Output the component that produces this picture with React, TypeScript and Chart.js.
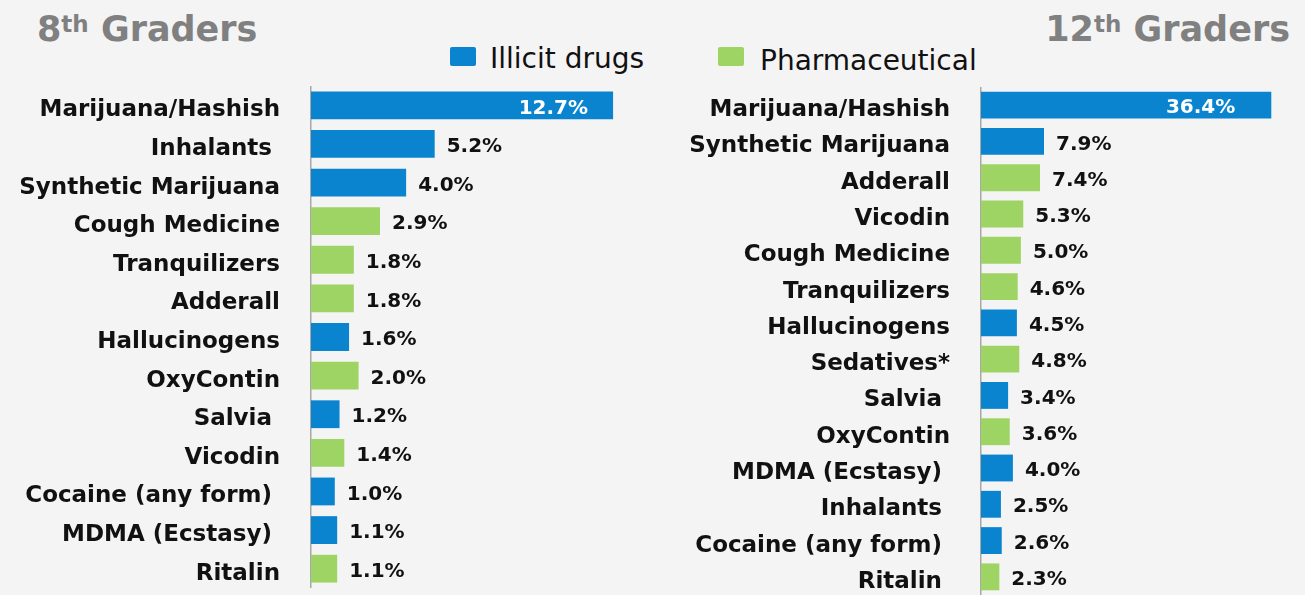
import React, { useEffect, useRef } from "react";
import { Chart, registerables } from "chart.js";

Chart.register(...registerables);

const SERIES_NAMES = ["Illicit drugs", "Pharmaceutical"];

const grade8Labels = [
  "Marijuana/Hashish",
  "Inhalants ",
  "Synthetic Marijuana",
  "Cough Medicine",
  "Tranquilizers",
  "Adderall",
  "Hallucinogens",
  "OxyContin",
  "Salvia ",
  "Vicodin",
  "Cocaine (any form) ",
  "MDMA (Ecstasy) ",
  "Ritalin",
];
const grade8Values = [12.7, 5.2, 4.0, 2.9, 1.8, 1.8, 1.6, 2.0, 1.2, 1.4, 1.0, 1.1, 1.1];
const grade8Types = ["I", "I", "I", "P", "P", "P", "I", "P", "I", "P", "I", "I", "P"];

const grade12Labels = [
  "Marijuana/Hashish",
  "Synthetic Marijuana",
  "Adderall",
  "Vicodin",
  "Cough Medicine",
  "Tranquilizers",
  "Hallucinogens",
  "Sedatives*",
  "Salvia ",
  "OxyContin",
  "MDMA (Ecstasy) ",
  "Inhalants ",
  "Cocaine (any form) ",
  "Ritalin ",
];
const grade12Values = [36.4, 7.9, 7.4, 5.3, 5.0, 4.6, 4.5, 4.8, 3.4, 3.6, 4.0, 2.5, 2.6, 2.3];
const grade12Types = ["I", "I", "P", "P", "P", "P", "I", "P", "I", "P", "I", "I", "I", "P"];

const BLUE = "#0a84cf";
const GREEN = "#9dd463";
const BG = "#f4f4f4";
const FONT = "'DejaVu Sans'";

const valueLabelPlugin = {
  id: "valueLabels",
  afterDatasetsDraw(chart: any, _args: any, opts: any) {
    const ctx = chart.ctx;
    let maxV = 0;
    chart.data.datasets.forEach((ds: any) =>
      ds.data.forEach((v: any) => {
        if (v != null && v > maxV) maxV = v;
      })
    );
    ctx.save();
    ctx.font = "bold 20px " + FONT;
    ctx.textBaseline = "middle";
    chart.data.datasets.forEach((ds: any, di: number) => {
      const meta = chart.getDatasetMeta(di);
      meta.data.forEach((el: any, i: number) => {
        const v = ds.data[i];
        if (v == null) return;
        const txt = v.toFixed(1) + "%";
        if (v === maxV) {
          ctx.fillStyle = "#ffffff";
          ctx.textAlign = "right";
          ctx.fillText(txt, el.x - opts.insideOffset, el.y + 3);
        } else {
          ctx.fillStyle = "#111111";
          ctx.textAlign = "left";
          ctx.fillText(txt, el.x + 12, el.y + 3);
        }
      });
    });
    ctx.restore();
  },
};

function makeConfig(
  labels: string[],
  values: number[],
  types: string[],
  xMax: number,
  axisWidth: number,
  barPct: number,
  insideOffset: number
) {
  const illicit = values.map((v, i) => (types[i] === "I" ? v : null));
  const pharma = values.map((v, i) => (types[i] === "P" ? v : null));
  return {
    type: "bar" as const,
    data: {
      labels,
      datasets: [
        { label: SERIES_NAMES[0], data: illicit, backgroundColor: BLUE, categoryPercentage: 1, barPercentage: barPct },
        { label: SERIES_NAMES[1], data: pharma, backgroundColor: GREEN, categoryPercentage: 1, barPercentage: barPct },
      ],
    },
    options: {
      indexAxis: "y" as const,
      responsive: false,
      animation: false as const,
      layout: { padding: 0 },
      plugins: {
        legend: { display: false },
        tooltip: { enabled: false },
        valueLabels: { insideOffset },
      },
      scales: {
        x: { display: false, stacked: true, min: 0, max: xMax },
        y: {
          stacked: true,
          grid: { display: false, drawTicks: false },
          border: { display: true, color: "#a8a8a8", width: 1.5 },
          ticks: {
            padding: 31,
            labelOffset: 5,
            color: "#111111",
            font: { family: FONT, weight: "bold" as const, size: 23 },
            autoSkip: false,
          },
          afterFit: (scale: any) => {
            scale.width = axisWidth;
            scale.paddingTop = 0;
            scale.paddingBottom = 0;
          },
        },
      },
    },
    plugins: [valueLabelPlugin],
  };
}

function BarChart(props: {
  labels: string[];
  values: number[];
  types: string[];
  xMax: number;
  axisWidth: number;
  barPct: number;
  insideOffset: number;
  width: number;
  height: number;
  style: React.CSSProperties;
}) {
  const ref = useRef<HTMLCanvasElement | null>(null);
  useEffect(() => {
    if (!ref.current) return;
    const chart = new Chart(
      ref.current,
      makeConfig(props.labels, props.values, props.types, props.xMax, props.axisWidth, props.barPct, props.insideOffset) as any
    );
    return () => chart.destroy();
  }, []);
  return <canvas ref={ref} width={props.width} height={props.height} style={{ position: "absolute", ...props.style }} />;
}

const titleStyle: React.CSSProperties = {
  position: "absolute",
  fontFamily: FONT,
  fontWeight: 700,
  fontSize: 35,
  color: "#808080",
  lineHeight: 1,
  whiteSpace: "nowrap",
};
const supStyle: React.CSSProperties = { fontSize: 23, verticalAlign: "top", position: "relative", top: 1 };

const legendText: React.CSSProperties = {
  position: "absolute",
  fontFamily: FONT,
  fontSize: 28,
  lineHeight: "34px",
  color: "#111",
  whiteSpace: "nowrap",
};

export default function App() {
  return (
    <div
      style={{
        position: "fixed",
        left: 0,
        top: 0,
        width: 1305,
        height: 595,
        background: BG,
        overflow: "hidden",
      }}
    >
      <div style={{ ...titleStyle, left: 37, top: 12 }}>
        8<span style={supStyle}>th</span> Graders
      </div>
      <div style={{ ...titleStyle, right: 15, top: 12 }}>
        12<span style={supStyle}>th</span> Graders
      </div>
      <div style={{ position: "absolute", left: 450, top: 47, width: 26, height: 19, background: BLUE, borderRadius: 2 }} />
      <div style={{ ...legendText, left: 490, top: 42 }}>{SERIES_NAMES[0]}</div>
      <div style={{ position: "absolute", left: 718, top: 47, width: 26, height: 19, background: GREEN, borderRadius: 2 }} />
      <div style={{ ...legendText, left: 760, top: 44 }}>{SERIES_NAMES[1]}</div>
      <BarChart
        labels={grade8Labels}
        values={grade8Values}
        types={grade8Types}
        xMax={14}
        axisWidth={311}
        barPct={0.72}
        insideOffset={25}
        width={644}
        height={502}
        style={{ left: 0, top: 86 }}
      />
      <BarChart
        labels={grade12Labels}
        values={grade12Values}
        types={grade12Types}
        xMax={40}
        axisWidth={321}
        barPct={0.74}
        insideOffset={36}
        width={640}
        height={508}
        style={{ left: 660, top: 87 }}
      />
    </div>
  );
}
